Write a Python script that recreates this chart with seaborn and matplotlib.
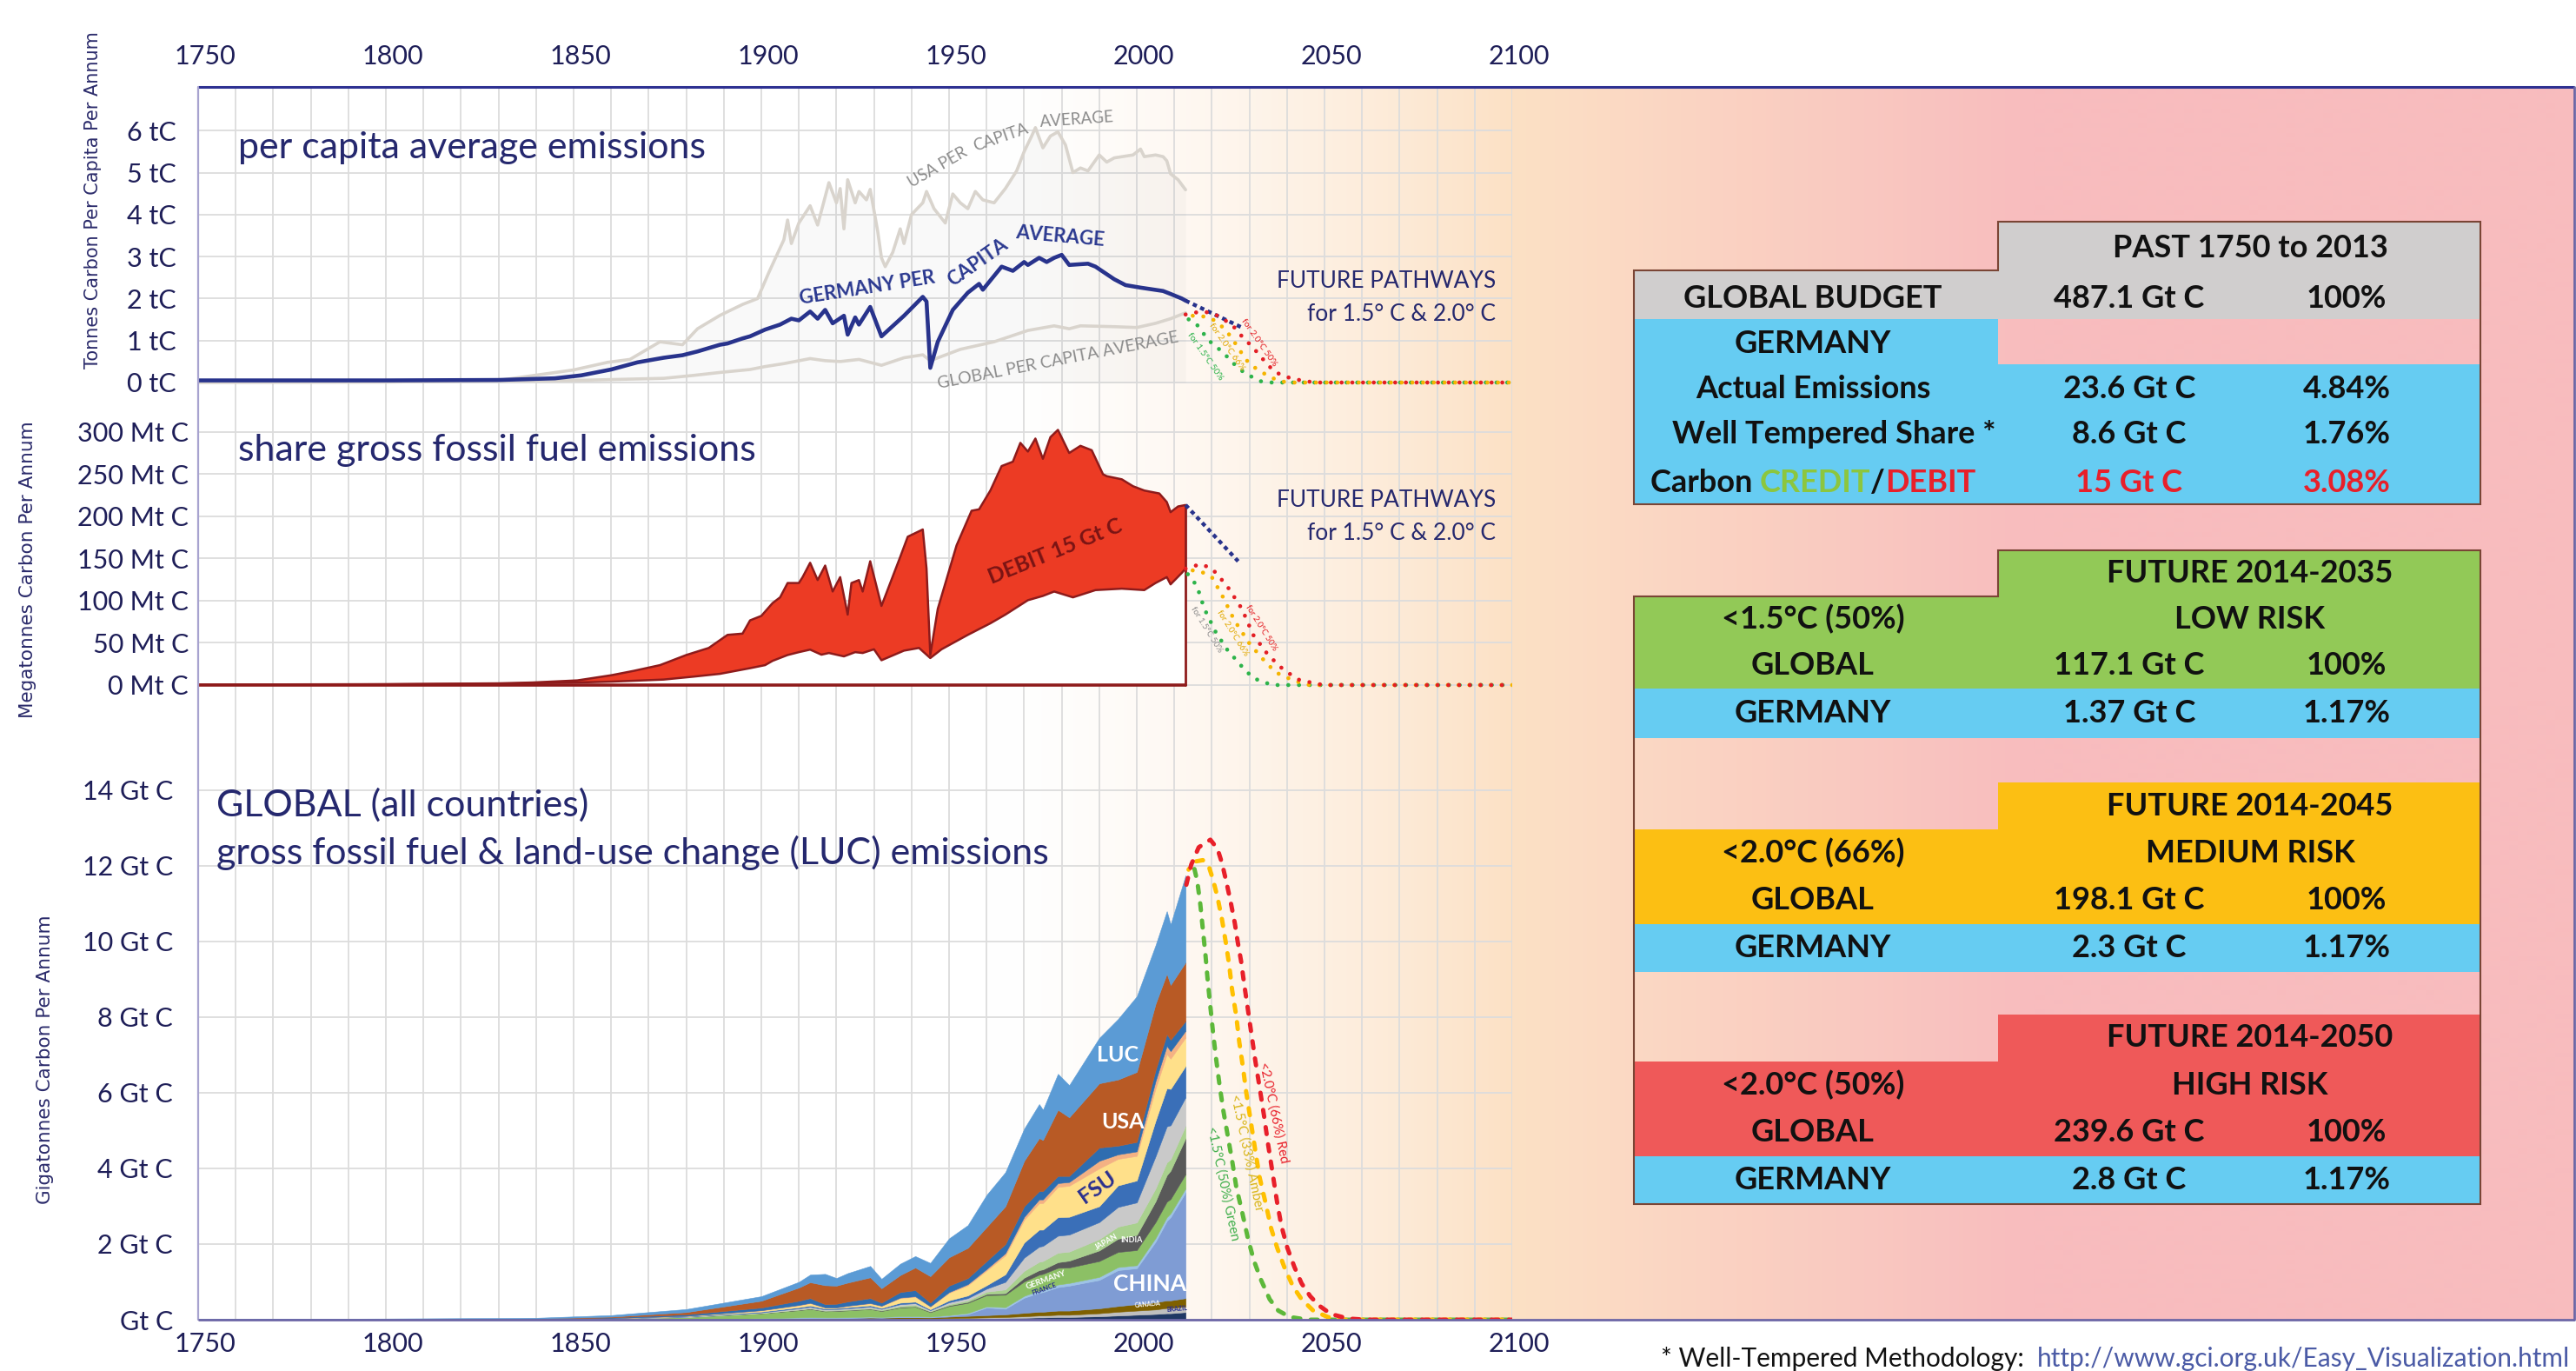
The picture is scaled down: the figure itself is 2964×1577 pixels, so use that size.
import numpy as np
import matplotlib
matplotlib.use("Agg")
import matplotlib.pyplot as plt
import matplotlib.colors as mcolors
from matplotlib.patches import Rectangle, Polygon
from matplotlib.transforms import ScaledTranslation
import seaborn as sns

# ============================ DATA ============================
YEAR_TICKS = [1750, 1800, 1850, 1900, 1950, 2000, 2050, 2100]
PC_TICKS = [0, 1, 2, 3, 4, 5, 6]
PC_TICK_LABELS = ["0 tC", "1 tC", "2 tC", "3 tC", "4 tC", "5 tC", "6 tC"]
MT_TICKS = [0, 50, 100, 150, 200, 250, 300]
MT_TICK_LABELS = ["0 Mt C", "50 Mt C", "100 Mt C", "150 Mt C", "200 Mt C", "250 Mt C", "300 Mt C"]
GT_TICKS = [0, 2, 4, 6, 8, 10, 12, 14]
GT_TICK_LABELS = ["Gt C", "2 Gt C", "4 Gt C", "6 Gt C", "8 Gt C", "10 Gt C", "12 Gt C", "14 Gt C"]

# --- panel 1: per capita (tC / person / yr), (year, value)
USA_PC = [(1750, 0.0), (1800, 0.01), (1830, 0.05), (1850, 0.3), (1859, 0.48), (1865, 0.55), (1873, 0.97),
          (1879, 0.9), (1883, 1.28), (1889, 1.6), (1895, 1.86), (1899, 2.0), (1902, 2.62), (1906, 3.4),
          (1907, 3.87), (1908, 3.31), (1910, 3.8), (1913, 4.21), (1915, 3.75), (1918, 4.76), (1920, 4.28),
          (1921, 4.62), (1922, 3.66), (1923, 4.83), (1925, 4.28), (1926, 4.55), (1928, 4.35), (1929, 4.6),
          (1931, 3.6), (1932, 2.97), (1933, 2.76), (1935, 3.1), (1937, 3.66), (1938, 3.31), (1940, 4.0),
          (1943, 4.28), (1944, 4.55), (1946, 4.14), (1949, 3.8), (1951, 4.49), (1953, 4.28), (1955, 4.14),
          (1957, 4.55), (1959, 4.35), (1962, 4.28), (1965, 4.62), (1968, 5.04), (1970, 5.5), (1972, 5.87),
          (1973, 6.07), (1975, 5.59), (1977, 5.87), (1979, 5.97), (1981, 5.66), (1983, 5.0), (1985, 5.11),
          (1987, 5.04), (1990, 5.42), (1992, 5.25), (1994, 5.35), (1999, 5.42), (2001, 5.56), (2002, 5.38),
          (2005, 5.42), (2007, 5.38), (2008, 5.28), (2009, 4.97), (2011, 4.83), (2013, 4.59)]
DE_PC = [(1750, 0.05), (1800, 0.05), (1830, 0.06), (1845, 0.1), (1852, 0.17), (1860, 0.31), (1867, 0.48),
         (1874, 0.59), (1879, 0.65), (1883, 0.74), (1889, 0.9), (1891, 0.93), (1895, 1.05), (1897, 1.1),
         (1901, 1.26), (1905, 1.38), (1908, 1.52), (1910, 1.48), (1913, 1.69), (1915, 1.52), (1917, 1.73),
         (1919, 1.41), (1922, 1.59), (1923, 1.14), (1925, 1.55), (1926, 1.38), (1929, 1.8), (1932, 1.1),
         (1938, 1.59), (1943, 2.04), (1944, 1.93), (1945, 0.35), (1947, 0.97), (1951, 1.73), (1955, 2.14),
         (1958, 2.35), (1959, 2.21), (1964, 2.76), (1967, 2.66), (1970, 2.87), (1971, 2.8), (1974, 2.97),
         (1976, 2.87), (1978, 2.97), (1980, 3.04), (1982, 2.8), (1987, 2.83), (1989, 2.76), (1994, 2.46),
         (1997, 2.32), (2001, 2.26), (2007, 2.18), (2009, 2.11), (2012, 2.0), (2013, 1.95)]
GL_PC = [(1750, 0.02), (1800, 0.02), (1850, 0.05), (1860, 0.07), (1874, 0.1), (1882, 0.17), (1889, 0.24),
         (1897, 0.31), (1901, 0.38), (1906, 0.45), (1913, 0.57), (1917, 0.52), (1921, 0.5), (1926, 0.55),
         (1932, 0.41), (1938, 0.59), (1943, 0.66), (1945, 0.52), (1953, 0.79), (1962, 0.97), (1971, 1.24),
         (1978, 1.35), (1982, 1.28), (1985, 1.35), (1994, 1.33), (2000, 1.31), (2005, 1.41), (2009, 1.52),
         (2013, 1.66)]
PC_DE_TREND = [(2013, 1.95), (2028, 1.31)]
PC_RED = [(2013, 1.62), (2017, 1.69), (2020, 1.66), (2023, 1.52), (2026, 1.31), (2028, 1.10), (2031, 0.83),
          (2033, 0.62), (2035, 0.41), (2037, 0.24), (2041, 0.10), (2045, 0.03), (2048, 0.0), (2100, 0.0)]
PC_AMBER = [(2013, 1.59), (2017, 1.59), (2020, 1.52), (2023, 1.31), (2025, 1.10), (2027, 0.83), (2029, 0.55),
            (2031, 0.38), (2034, 0.21), (2037, 0.07), (2040, 0.0), (2100, 0.0)]
PC_GREEN = [(2013, 1.55), (2016, 1.38), (2018, 1.14), (2020, 0.93), (2023, 0.72), (2025, 0.52), (2027, 0.35),
            (2029, 0.21), (2033, 0.03), (2036, 0.0), (2100, 0.0)]

# --- panel 2: Germany fossil emissions (Mt C)
DE_ACTUAL = [(1750, 0.5), (1800, 1), (1830, 2), (1839, 3), (1851, 5.5), (1860, 11.6), (1866, 16.8), (1873, 23.6),
             (1875, 27), (1880, 35.6), (1886, 44), (1891, 59.5), (1895, 61), (1897, 76.7), (1900, 82),
             (1903, 97.2), (1905, 104), (1907, 121), (1910, 121), (1911, 128), (1913, 145), (1915, 124.5),
             (1917, 141.7), (1919, 110.9), (1921, 128), (1923, 83.5), (1924, 121), (1926, 124.5), (1927, 110.9),
             (1929, 146.8), (1932, 93.8), (1937, 152), (1939, 175.9), (1943, 184.5), (1944, 138.3), (1945, 35.6),
             (1947, 90.4), (1952, 165.6), (1956, 206.7), (1958, 208.4), (1961, 230.7), (1964, 259.7),
             (1967, 264.9), (1969, 287.2), (1971, 276.9), (1973, 292.3), (1975, 268.3), (1977, 294),
             (1979, 302.6), (1982, 275.2), (1985, 283.7), (1988, 278.5), (1991, 250), (1992, 247.7), (1996, 244),
             (1999, 235.8), (2002, 230.7), (2006, 227.2), (2008, 217), (2009, 205), (2011, 211.8), (2013, 213.5)]
DE_SHARE = [(1750, 0.3), (1800, 0.8), (1830, 1.5), (1851, 3), (1860, 4), (1874, 6.5), (1882, 10), (1889, 13.3),
            (1897, 20), (1901, 23.6), (1903, 28.7), (1907, 35.6), (1910, 39), (1913, 42), (1916, 36), (1918, 38),
            (1922, 34), (1925, 39), (1927, 38), (1930, 42.4), (1932, 29.4), (1938, 40.8), (1942, 44), (1945, 32),
            (1948, 42.4), (1955, 59.5), (1961, 73.2), (1965, 83.5), (1971, 100.6), (1975, 105.7), (1978, 110.9),
            (1983, 104), (1989, 112.6), (1996, 114.3), (2002, 112.6), (2005, 121), (2008, 128), (2009, 119.4),
            (2012, 133), (2013, 138.3)]
MT_DE_TREND = [(2013, 213.5), (2027, 146.8)]
MT_RED = [(2013, 138), (2017, 143.4), (2020, 138.3), (2024, 117.8), (2028, 90.4), (2031, 59.5), (2035, 35.6),
          (2039, 18.5), (2043, 6.5), (2048, 1.4), (2050, 0), (2100, 0)]
MT_AMBER = [(2013, 137), (2017, 134.8), (2020, 128), (2023, 104), (2026, 76.7), (2030, 49.3), (2034, 28.7),
            (2037, 15), (2042, 4.8), (2046, 0), (2100, 0)]
MT_GREEN = [(2013, 134.8), (2016, 117.8), (2018, 90.4), (2021, 63), (2024, 42.4), (2028, 21.9), (2031, 8.2),
            (2036, 0), (2100, 0)]

# --- panel 3: global stacked emissions (Gt C)
YEARS_G = [1750, 1800, 1840, 1860, 1880, 1900, 1910, 1913, 1917, 1920, 1923, 1929, 1932, 1937, 1941, 1945,
           1950, 1955, 1960, 1965, 1970, 1974, 1975, 1979, 1982, 1990, 1995, 2000, 2005, 2008, 2009, 2013]
G_OTHER_NAVY = [0, 0, 0, 0, .005, .01, .015, .015, .015, .015, .015, .02, .02, .02, .02, .02,
                .025, .03, .035, .04, .05, .06, .06, .07, .07, .09, .11, .13, .15, .17, .17, .2]
G_BRAZIL = [0, 0, 0, 0, 0, .005, .01, .01, .01, .01, .01, .01, .01, .015, .015, .01,
            .015, .02, .025, .03, .04, .05, .05, .06, .06, .08, .1, .11, .12, .14, .14, .15]
G_CANADA = [0, 0, 0, 0, .005, .01, .015, .02, .02, .02, .02, .025, .02, .03, .03, .03,
            .04, .05, .06, .07, .09, .1, .1, .11, .11, .13, .15, .17, .19, .2, .2, .22]
G_CHINA = [0, 0, 0, 0, 0, .005, .005, .005, .005, .005, .005, .01, .01, .01, .01, .01,
           .02, .05, .2, .15, .4, .5, .52, .62, .66, .75, .95, .95, 1.6, 2.1, 2.2, 2.8]
G_FRANCE = [0, 0, 0, 0, 0, .01, .015, .015, .01, .01, .015, .015, .01, .015, .015, .01,
            .02, .025, .03, .04, .05, .06, .06, .07, .07, .08, .08, .08, .1, .1, .1, .1]
G_GERMANY_UK = [.004, .007, .012, .03, .06, .13, .19, .22, .16, .17, .18, .2, .16, .23, .25, .12,
                .24, .27, .3, .33, .38, .42, .42, .44, .41, .42, .4, .4, .42, .41, .38, .38]
G_INDIA = [0, 0, 0, 0, 0, .005, .01, .01, .01, .01, .01, .01, .01, .015, .015, .015,
           .02, .025, .03, .04, .1, .12, .12, .15, .18, .28, .35, .4, .55, .7, .75, .95]
G_JAPAN = [0, 0, 0, 0, 0, .005, .01, .01, .015, .015, .015, .02, .02, .035, .04, .01,
           .03, .04, .06, .1, .18, .22, .22, .25, .24, .3, .32, .33, .34, .34, .3, .33]
G_MISC_A = [0, 0, .001, .002, .01, .015, .03, .035, .025, .025, .03, .035, .025, .04, .04, .025,
            .05, .06, .08, .2, .35, .4, .4, .45, .45, .45, .52, .53, .85, .95, .9, .75]
G_MISC_B = [0, 0, .001, .003, .01, .02, .03, .035, .025, .025, .03, .035, .025, .04, .04, .025,
            .05, .07, .09, .2, .4, .45, .43, .49, .47, .42, .57, .58, .94, 1.01, .96, .83]
G_FSU = [0, 0, 0, .005, .01, .03, .05, .06, .02, .01, .03, .05, .05, .12, .13, .07,
         .2, .27, .39, .5, .6, .7, .7, .8, .82, 1.0, .7, .65, .85, .9, .8, .75]
G_MISC_C = [0, 0, 0, 0, 0, .005, .01, .01, .01, .01, .01, .01, .01, .015, .015, .01,
            .02, .03, .04, .06, .08, .1, .1, .1, .1, .2, .12, .12, .2, .22, .2, .18]
G_MISC_D = [.001, .003, .006, .02, .04, .07, .11, .125, .085, .095, .11, .13, .08, .145, .16, .095,
            .17, .16, .21, .24, .28, .22, .22, .19, .16, .35, .23, .25, .29, .31, .3, .26]
G_USA = [.002, .005, .01, .02, .06, .18, .35, .42, .5, .48, .5, .55, .38, .45, .6, .7,
         .75, .8, .9, 1.0, 1.2, 1.4, 1.35, 1.75, 1.55, 1.7, 1.75, 1.85, 1.75, 1.6, 1.45, 1.55]
G_LUC = [.01, .015, .02, .04, .08, .12, .15, .2, .3, .2, .25, .3, .25, .3, .3, .35,
         .5, .6, .85, .9, .85, .9, .8, .95, .85, 1.2, 1.6, 2.0, 1.55, 1.65, 1.6, 2.3]

GT_RED = [(2013.2, 11.5), (2014.5, 12.03), (2016.5, 12.49), (2019.6, 12.69), (2021.5, 12.45), (2022.7, 12.07),
          (2023.8, 11.6), (2025, 11.05), (2026.1, 10.49), (2026.9, 9.98), (2027.8, 9.47), (2028.6, 8.88),
          (2029.6, 8.2), (2030.6, 7.51), (2031.6, 6.83), (2032.7, 6.15), (2033.9, 5.39), (2035, 4.62),
          (2036.2, 3.86), (2037.4, 3.09), (2038.5, 2.49), (2040.1, 1.9), (2042, 1.39), (2043.9, 0.96),
          (2046.2, 0.62), (2048.6, 0.37), (2051.7, 0.15), (2056.3, 0.03), (2061, 0), (2100, 0)]
GT_AMBER = [(2013.8, 11.9), (2015.3, 12.11), (2017.6, 12.15), (2019.2, 11.98), (2020.3, 11.64), (2021.5, 11.17),
            (2022.7, 10.58), (2023.7, 9.98), (2024.6, 9.39), (2025.4, 8.71), (2026.5, 8.03), (2027.3, 7.34),
            (2028.3, 6.66), (2029.2, 5.98), (2030.4, 5.22), (2031.6, 4.45), (2032.7, 3.77), (2034.3, 3.09),
            (2035.8, 2.41), (2037.4, 1.9), (2039.3, 1.39), (2041.6, 0.88), (2043.9, 0.54), (2047, 0.24),
            (2050.9, 0.07), (2054.8, 0), (2100, 0)]
GT_GREEN = [(2014.2, 11.86), (2015.3, 11.94), (2016.1, 11.6), (2016.9, 11.0), (2017.6, 10.32), (2018.3, 9.64),
            (2018.9, 8.96), (2019.6, 8.28), (2020.3, 7.6), (2021.1, 6.92), (2022, 6.24), (2023, 5.56),
            (2024.2, 4.88), (2025.4, 4.2), (2026.5, 3.51), (2028.1, 2.83), (2029.6, 2.15), (2031.2, 1.56),
            (2033.1, 1.05), (2035.4, 0.54), (2037.7, 0.24), (2040.8, 0.07), (2045.5, 0), (2100, 0)]

# --- tables
PAST_HEADER = "PAST 1750 to 2013"
PAST_GLOBAL = ("GLOBAL BUDGET", "487.1 Gt C", "100%")
PAST_ROWS = [("Actual Emissions", "23.6 Gt C", "4.84%"), ("Well Tempered Share *", "8.6 Gt C", "1.76%")]
PAST_DEBIT = ("15 Gt C", "3.08%")
FUT_HEADERS = ["FUTURE 2014-2035", "FUTURE 2014-2045", "FUTURE 2014-2050"]
FUT_TARGETS = ["<1.5°C (50%)", "<2.0°C (66%)", "<2.0°C (50%)"]
FUT_RISK = ["LOW RISK", "MEDIUM RISK", "HIGH RISK"]
FUT_GLOBAL = ["117.1 Gt C", "198.1 Gt C", "239.6 Gt C"]
FUT_GLOBAL_PCT = ["100%", "100%", "100%"]
FUT_DE = ["1.37 Gt C", "2.3 Gt C", "2.8 Gt C"]
FUT_DE_PCT = ["1.17%", "1.17%", "1.17%"]

# ============================ STYLE ============================
sns.set_theme(style="white")
plt.rcParams['font.family'] = ['Lato', 'DejaVu Sans']
plt.rcParams['axes.unicode_minus'] = False

W, H = 2964, 1577
fig = plt.figure(figsize=(W / 100, H / 100), dpi=100)


def frac(x0, y0, x1, y1):
    return [x0 / W, 1 - y1 / H, (x1 - x0) / W, (y1 - y0) / H]


NAVY = '#25286E'
TICK_C = '#1E1E58'
GRID_C = '#DCDCDC'
DK_RED = '#8E1B1B'
C_RED, C_AMB, C_GRN = '#E8202A', '#FFC000', '#5DB83A'
TITLE_FS = 31

# ---------- background gradient ----------
bg = fig.add_axes([0, 0, 1, 1], zorder=0)
bg.axis('off')
white = np.array([1., 1., 1.])
peach = np.array(mcolors.to_rgb('#FCE1C5'))
pink = np.array(mcolors.to_rgb('#F8BCBE'))
row = []
for xp in range(228, 2963):
    if xp <= 1740:
        yr = 1750 + (xp - 228) / 4.32
        t = np.clip((yr - 1960) / 140, 0, 1) ** 1.5
        row.append(white * (1 - t) + peach * t)
    else:
        t = np.clip((xp - 1740) / 600, 0, 1)
        row.append(peach * (1 - t) + pink * t)
bg.imshow(np.array(row)[None, :, :], extent=[228, 2962, 1518, 100], aspect='auto', interpolation='bilinear')
bg.set_xlim(0, W)
bg.set_ylim(H, 0)

# ---------- panels ----------
ax1 = fig.add_axes(frac(228, 100, 1740, 468), zorder=2)
ax2 = fig.add_axes(frac(228, 468, 1740, 848), zorder=2)
ax3 = fig.add_axes(frac(228, 848, 1740, 1518), zorder=2)
for ax in (ax1, ax2, ax3):
    ax.patch.set_alpha(0)
    for s in ax.spines.values():
        s.set_visible(False)
    ax.set_axisbelow(True)


def xy(pts):
    a, b = zip(*pts)
    return list(a), list(b)


def dotted(ax, pts, color, off=0.0, lw=3.4):
    a, b = xy(pts)
    ax.plot(a, b, color=color, lw=lw, linestyle=(off, (0.01, 2.6)), dash_capstyle='round', zorder=5)


def dashed(ax, pts, color, off=0.0):
    a, b = xy(pts)
    ax.plot(a, b, color=color, lw=3.6, linestyle=(off, (1.6, 2.4)), dash_capstyle='round', zorder=5)


# ---------- panel 1 ----------
uy, uv = xy(USA_PC)
ax1.fill_between(uy, 0, uv, color='#808080', alpha=0.045, lw=0, zorder=1)
sns.lineplot(x=uy, y=uv, ax=ax1, color='#D9D4CD', lw=2.6, estimator=None, sort=False, zorder=3)
gy, gv = xy(GL_PC)
sns.lineplot(x=gy, y=gv, ax=ax1, color='#D9D4CD', lw=2.6, estimator=None, sort=False, zorder=3)
dy, dv = xy(DE_PC)
sns.lineplot(x=dy, y=dv, ax=ax1, color='#28338C', lw=3.3, estimator=None, sort=False, zorder=4)
ty, tv = xy(PC_DE_TREND)
ax1.plot(ty, tv, color='#28338C', lw=3.2, linestyle=(0, (1.1, 1.0)), zorder=5)
dotted(ax1, PC_GREEN, '#2DB34A', 1.73)
dotted(ax1, PC_AMBER, '#F5B400', 0.87)
dotted(ax1, PC_RED, '#E31E24', 0.0)

ax1.text(1760.6, 5.59, "per capita average emissions", fontsize=TITLE_FS, color=NAVY, va='center', ha='left')
for s, x_, y_, r in [("USA PER", 1947.0, 5.12, 30), ("CAPITA", 1963.8, 5.84, 19), ("AVERAGE", 1984.0, 6.26, 4)]:
    ax1.text(x_, y_, s, fontsize=13.5, color='#8C8C8C', rotation=r, rotation_mode='anchor',
             ha='center', va='center', zorder=6)
for s, x_, y_, r in [("GERMANY PER", 1928.2, 2.25, 9), ("CAPITA", 1957.6, 2.86, 35), ("AVERAGE", 1979.5, 3.47, -5)]:
    ax1.text(x_, y_, s, fontsize=16, color='#2B3990', fontweight='bold', rotation=r, rotation_mode='anchor',
             ha='center', va='center', zorder=6)
ax1.text(1979, 0.52, "GLOBAL PER CAPITA AVERAGE", fontsize=14, color='#8C8C8C', rotation=11,
         rotation_mode='anchor', ha='center', va='center', zorder=6)
ax1.text(2095.7, 2.42, "FUTURE PATHWAYS", fontsize=19, color=NAVY, ha='right', va='center')
ax1.text(2095.7, 1.62, "for 1.5° C & 2.0° C", fontsize=19, color=NAVY, ha='right', va='center')
for s, x_, y_, c in [("for 1.5°C 50%", 2018.3, 0.62, '#2DB34A'), ("for 2.0°C 66%", 2024.0, 0.85, '#E0A800'),
                     ("for 2.0°C 50%", 2032.6, 0.95, '#E31E24')]:
    ax1.text(x_, y_, s, fontsize=7.5, color=c, rotation=-55, rotation_mode='anchor', ha='center', va='center',
             zorder=6)

# ---------- panel 2 ----------
ay, av = xy(DE_ACTUAL)
sy, sv = xy(DE_SHARE)
ax2.fill_between(sy, 0, sv, color='white', lw=0, zorder=2)
ax2.fill(ay + sy[::-1], av + sv[::-1], color='#EC3B24', lw=0, zorder=2.5)
sns.lineplot(x=ay, y=av, ax=ax2, color=DK_RED, lw=1.8, estimator=None, sort=False, zorder=3)
sns.lineplot(x=sy, y=sv, ax=ax2, color=DK_RED, lw=1.8, estimator=None, sort=False, zorder=3)
ax2.plot([ay[0], ay[-1]], [0, 0], color=DK_RED, lw=2.6, zorder=3)
ax2.plot([ay[-1], ay[-1]], [0, av[-1]], color=DK_RED, lw=2.0, zorder=3)
ty, tv = xy(MT_DE_TREND)
ax2.plot(ty, tv, color='#28338C', lw=3.2, linestyle=(0, (1.1, 1.0)), zorder=5)
dotted(ax2, MT_GREEN, '#2DB34A', 1.73)
dotted(ax2, MT_AMBER, '#F5B400', 0.87)
dotted(ax2, MT_RED, '#E31E24', 0.0)
ax2.text(1760.6, 278.5, "share gross fossil fuel emissions", fontsize=TITLE_FS, color=NAVY, va='center', ha='left')
ax2.text(1978.3, 158, "DEBIT 15 Gt C", fontsize=18, color='#7A1414', fontweight='bold', rotation=22,
         rotation_mode='anchor', ha='center', va='center', zorder=6)
ax2.text(2095.7, 218.7, "FUTURE PATHWAYS", fontsize=19, color=NAVY, ha='right', va='center')
ax2.text(2095.7, 179.4, "for 1.5° C & 2.0° C", fontsize=19, color=NAVY, ha='right', va='center')
for s, x_, y_, c in [("for 1.5°C 50%", 2018.6, 66, '#8C8C8C'), ("for 2.0°C 66%", 2025.4, 62, '#E0A800'),
                     ("for 2.0°C 50%", 2033.0, 68, '#E31E24')]:
    ax2.text(x_, y_, s, fontsize=7, color=c, rotation=-58, rotation_mode='anchor', ha='center', va='center',
             zorder=6)

# ---------- panel 3 ----------
layers = [G_OTHER_NAVY, G_BRAZIL, G_CANADA, G_CHINA, G_FRANCE, G_GERMANY_UK, G_INDIA, G_JAPAN,
          G_MISC_A, G_MISC_B, G_FSU, G_MISC_C, G_MISC_D, G_USA, G_LUC]
lcolors = ['#203864', '#BFBFBF', '#7F6000', '#7F9CD4', '#9DC3E6', '#8CC065', '#595959', '#A9D18E',
           '#C9C9C9', '#3A6FB8', '#FFE08A', '#F4B183', '#2E6DB0', '#B85A25', '#5B9BD5']
ax3.stackplot(YEARS_G, *layers, colors=lcolors, lw=0.4, edgecolor='face', zorder=2)
dashed(ax3, GT_GREEN, C_GRN, 2.6)
dashed(ax3, GT_AMBER, C_AMB, 1.3)
dashed(ax3, GT_RED, C_RED, 0.0)

ax3.text(1754.9, 13.6, "GLOBAL (all countries)", fontsize=TITLE_FS, color=NAVY, va='center', ha='left')
ax3.text(1754.9, 12.34, "gross fossil fuel & land-use change (LUC) emissions", fontsize=TITLE_FS, color=NAVY,
         va='center', ha='left')
for s, x_, y_, c, fs, r in [("LUC", 1995.0, 7.0, 'white', 18, 0), ("USA", 1996.2, 5.23, 'white', 18, 0),
                            ("FSU", 1989.6, 3.5, '#2A2F8F', 18, 35), ("CHINA", 2003.5, 0.95, 'white', 19, 0),
                            ("JAPAN", 1991.9, 2.05, 'white', 6.5, 30), ("INDIA", 1998.5, 2.1, 'white', 6.5, 0),
                            ("GERMANY", 1975.8, 1.05, 'white', 7, 20), ("FRANCE", 1975.4, 0.82, '#2A2F8F', 5.5, 20),
                            ("CANADA", 2003.0, 0.4, 'white', 5, 5), ("BRAZIL", 2010.8, 0.28, '#2A2F8F', 5, 5)]:
    ax3.text(x_, y_, s, fontsize=fs, color=c, fontweight='bold', rotation=r, rotation_mode='anchor',
             ha='center', va='center', zorder=6)
for s, x_, y_, c in [("<2.0°C (66%) Red", 2036.6, 5.47, C_RED), ("<1.5°C (33%) Amber", 2029.2, 4.41, '#D8B416'),
                     ("<1.5°C (50%) Green", 2023.0, 3.6, '#3DAE49')]:
    ax3.text(x_, y_, s, fontsize=11, color=c, rotation=-78, rotation_mode='anchor', ha='center',
             va='center', zorder=6)

# ---------- axes scales, ticks, grid ----------
for ax in (ax1, ax2, ax3):
    ax.set_xlim(1750, 2100)
    ax.set_xticks(YEAR_TICKS)
    ax.set_xticks(np.arange(1750, 2101, 10), minor=True)
    ax.grid(True, which='both', axis='x', color=GRID_C, lw=1.3)
    ax.grid(True, which='major', axis='y', color=GRID_C, lw=1.3)
    ax.set_xlabel('')
    ax.set_ylabel('')

ax1.set_ylim(-0.58, 7.04)
ax1.set_yticks(PC_TICKS)
ax1.set_yticklabels(PC_TICK_LABELS)
ax1.xaxis.tick_top()
ax1.tick_params(axis='x', which='both', length=0, pad=15, labelsize=22, labelcolor=TICK_C)
ax1.tick_params(axis='y', length=0, pad=18, labelsize=22, labelcolor=TICK_C)

ax2.set_ylim(-61.9, 329.9)
ax2.set_yticks(MT_TICKS)
ax2.set_yticklabels(MT_TICK_LABELS)
ax2.tick_params(axis='x', which='both', length=0, labelbottom=False, labeltop=False)
ax2.tick_params(axis='y', length=0, pad=8, labelsize=22, labelcolor=TICK_C)

ax3.set_ylim(0, 15.4)
ax3.set_yticks(GT_TICKS)
ax3.set_yticklabels(GT_TICK_LABELS)
ax3.tick_params(axis='x', which='both', length=0, pad=10, labelsize=22, labelcolor=TICK_C)
ax3.tick_params(axis='y', length=0, pad=21, labelsize=22, labelcolor=TICK_C)

shift = ScaledTranslation(8 / 100, 0, fig.dpi_scale_trans)
for ax in (ax1, ax3):
    for lab in ax.get_xticklabels():
        lab.set_transform(lab.get_transform() + shift)

# ---------- overlay (pixel coordinates) ----------
ov = fig.add_axes([0, 0, 1, 1], zorder=5)
ov.set_xlim(0, W)
ov.set_ylim(H, 0)
ov.axis('off')

ov.plot([228, 2962], [100, 100], color='#2E3192', lw=2.2, solid_capstyle='butt')
ov.plot([228, 228], [100, 1518], color='#A7A3CF', lw=1.6)
ov.plot([228, 2962], [1518, 1518], color='#6C66A6', lw=2.0, solid_capstyle='butt')
ov.plot([2962, 2962], [100, 1518], color='#6C66A6', lw=2.0)

YL_C = '#2B2B6B'
ov.text(107, 230, "Tonnes Carbon Per Capita Per Annum", rotation=90, ha='center', va='center',
        fontsize=15, family='DejaVu Sans', color=YL_C)
ov.text(32, 655, "Megatonnes Carbon Per Annum", rotation=90, ha='center', va='center',
        fontsize=15.5, family='DejaVu Sans', color=YL_C)
ov.text(52, 1219, "Gigatonnes Carbon Per Annum", rotation=90, ha='center', va='center',
        fontsize=15.5, family='DejaVu Sans', color=YL_C)

# ---------- tables ----------
TL, TM, TR = 1880, 2299, 2854
C1, C2, C3, CH = 2086, 2450, 2700, 2589
GRAY, BLUE, GREEN, AMBER, RED, EDGE = '#D0CECE', '#66CCF2', '#92C957', '#FCBF13', '#EF5959', '#7A4535'
TFS = 26
r_ = fig.canvas.get_renderer()


def rect(x0, y0, x1, y1, c):
    ov.add_patch(Rectangle((x0, y0), x1 - x0, y1 - y0, facecolor=c, edgecolor='none', zorder=1))


def ttext(x, y, s, c='#111111'):
    ov.text(x, y, s, ha='center', va='center', fontsize=TFS, fontweight='bold', color=c, zorder=3)


def run_text(x_left, y, parts, fs, weight='normal', center=False):
    objs, widths = [], []
    for s, c in parts:
        t = ov.text(0, y, s, ha='left', va='center', fontsize=fs, fontweight=weight, color=c, zorder=3)
        objs.append(t)
        widths.append(t.get_window_extent(renderer=r_).width)
    xc = x_left - (sum(widths) / 2 if center else 0)
    for t, w in zip(objs, widths):
        t.set_x(xc)
        xc += w


rect(TM, 255, TR, 367, GRAY)
rect(TL, 311, TM, 367, GRAY)
rect(TL, 367, TM, 419, BLUE)
rect(TL, 419, TR, 580, BLUE)
ov.add_patch(Polygon([(TL, 311), (TM, 311), (TM, 255), (TR, 255), (TR, 580), (TL, 580)], closed=True,
                     fill=False, edgecolor=EDGE, lw=1.5, zorder=2))
ttext(CH, 285, PAST_HEADER)
ttext(C1, 343, PAST_GLOBAL[0]); ttext(C2, 343, PAST_GLOBAL[1]); ttext(C3, 343, PAST_GLOBAL[2])
ttext(C1, 395, "GERMANY")
for (a, b, c), yy in zip(PAST_ROWS, [448, 500]):
    ttext(C1 + (24 if a.startswith("Well") else 0), yy, a); ttext(C2, yy, b); ttext(C3, yy, c)
ttext(C2, 555, PAST_DEBIT[0], '#E8202A')
ttext(C3, 555, PAST_DEBIT[1], '#E8202A')
run_text(C1, 555, [("Carbon ", '#111111'), ("CREDIT", '#8CC63F'), ("/", '#111111'), ("DEBIT", '#E8202A')],
         TFS, weight='bold', center=True)

fut_geo = [(633, 686, 792, 849, GREEN), (900, 954, 1063, 1118, AMBER), (1167, 1221, 1330, 1385, RED)]
for i, (y0, y1, y2, y3, col) in enumerate(fut_geo):
    rect(TM, y0, TR, y1, col)
    rect(TL, y1, TR, y2, col)
    rect(TL, y2, TR, y3, BLUE)
    ya = (y0 + y1) / 2
    yb = y1 + (y2 - y1) / 4
    yc = y1 + 3 * (y2 - y1) / 4
    yd = (y2 + y3) / 2
    ttext(CH, ya, FUT_HEADERS[i])
    ttext(C1, yb, FUT_TARGETS[i]); ttext(CH, yb, FUT_RISK[i])
    ttext(C1, yc, "GLOBAL"); ttext(C2, yc, FUT_GLOBAL[i]); ttext(C3, yc, FUT_GLOBAL_PCT[i])
    ttext(C1, yd, "GERMANY"); ttext(C2, yd, FUT_DE[i]); ttext(C3, yd, FUT_DE_PCT[i])
ov.add_patch(Polygon([(TL, 686), (TM, 686), (TM, 633), (TR, 633), (TR, 1385), (TL, 1385)], closed=True,
                     fill=False, edgecolor=EDGE, lw=1.5, zorder=2))

# ---------- footnote ----------
run_text(1911, 1563, [("* Well-Tempered Methodology:  ", '#111111'),
                      ("http://www.gci.org.uk/Easy_Visualization.html", '#4B5BA6')], 21.5)

fig.savefig("out.png", dpi=100)
